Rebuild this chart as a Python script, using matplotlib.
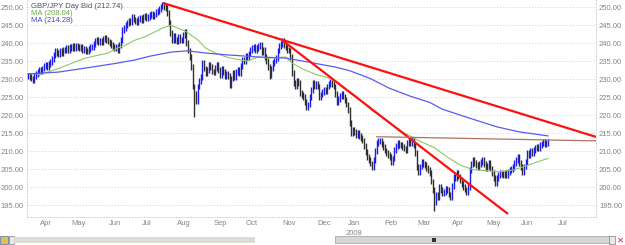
import numpy as np
import matplotlib
matplotlib.use("Agg")
import matplotlib.pyplot as plt
from matplotlib.patches import Rectangle
from matplotlib.transforms import blended_transform_factory

# --- data (daily closes, GBP/JPY) ---
CLOSE = [
    231.0, 230.6, 230.2, 229.8, 231.0, 231.4, 232.0, 232.5, 232.2, 233.0,
    233.6, 234.0, 233.5, 234.3, 234.8, 235.6, 236.8, 238.0, 237.4, 237.0,
    237.8, 237.3, 238.2, 238.0, 238.6, 238.2, 239.0, 238.7, 239.2, 238.8,
    239.4, 239.0, 238.6, 239.1, 238.0, 238.5, 237.9, 237.7, 238.4, 238.9,
    239.0, 239.8, 240.6, 241.0, 240.3, 240.8, 240.4, 241.2, 241.5, 240.9,
    240.5, 240.0, 239.6, 239.0, 238.6, 238.9, 238.0, 239.6, 241.0, 243.7,
    244.2, 245.0, 245.6, 246.2, 245.8, 247.3, 246.6, 246.2, 246.0, 246.8,
    247.0, 246.5, 247.3, 247.6, 247.0, 247.4, 247.8, 248.2, 247.6, 248.0,
    248.6, 249.0, 249.6, 250.2, 250.8, 250.0, 249.8, 248.4, 245.6, 242.8,
    241.0, 242.0, 241.0, 240.6, 241.8, 240.8, 241.0, 242.4, 243.2, 240.0,
    238.0, 236.2, 233.5, 228.0, 226.0, 224.0, 228.0, 229.5, 230.7, 234.5,
    233.0, 231.8, 232.6, 234.0, 233.4, 232.2, 232.0, 233.2, 234.0, 232.5,
    231.2, 232.8, 232.0, 230.8, 231.6, 231.0, 228.4, 230.2, 231.7, 230.6,
    232.0, 232.6, 231.7, 233.8, 235.4, 235.0, 236.6, 236.2, 237.2, 238.1,
    238.6, 239.0, 238.2, 238.7, 239.2, 239.5, 237.6, 238.2, 236.2, 235.0,
    233.4, 231.2, 233.0, 234.5, 235.2, 236.0, 238.0, 239.2, 239.8, 240.6,
    239.6, 239.0, 238.2, 238.0, 236.2, 231.7, 229.0, 228.0, 229.6, 229.0,
    226.2, 225.6, 225.0, 223.8, 222.4, 223.0, 225.0, 227.0, 229.0, 228.2,
    228.6, 228.0, 225.0, 225.8, 226.5, 227.2, 226.6, 228.0, 228.8, 229.2,
    228.6, 228.0, 226.0, 223.7, 224.6, 225.4, 226.0, 225.2, 224.3, 223.0,
    221.5, 217.8, 215.0, 216.0, 215.4, 214.6, 215.0, 214.2, 213.6, 213.0,
    211.4, 209.8, 208.4, 207.6, 206.6, 205.6, 207.6, 210.0, 212.3, 212.8,
    213.0, 212.0, 211.2, 210.2, 209.5, 209.0, 208.4, 207.0, 208.0, 210.4,
    211.4, 212.3, 211.6, 211.8, 211.2, 210.8, 210.4, 212.3, 212.8, 212.2,
    213.1, 211.6, 209.5, 205.6, 204.3, 205.8, 207.0, 206.4, 206.2, 205.4,
    204.8, 204.0, 201.6, 199.3, 196.0, 198.0, 197.3, 200.0, 199.2, 198.3,
    198.8, 199.6, 199.2, 198.0, 197.3, 200.4, 203.0, 202.6, 204.0, 203.0,
    202.0, 201.0, 200.0, 199.4, 198.7, 200.0, 204.8, 206.4, 207.6, 206.7,
    206.2, 205.6, 206.4, 207.0, 207.6, 206.4, 205.3, 206.0, 206.7, 205.2,
    204.0, 202.6, 201.2, 202.5, 203.4, 204.0, 203.6, 203.4, 204.0, 203.4,
    204.2, 204.8, 205.0, 205.6, 206.8, 207.6, 208.4, 206.7, 205.6, 204.3,
    205.8, 207.0, 209.5, 209.0, 210.0, 209.6, 210.4, 211.0, 211.2, 210.8,
    211.8, 212.2, 212.6, 212.0, 212.3, 212.74,
]

# intraday spike lows
SPIKE_IDX = [3, 104, 151, 254]
SPIKE_LOW = [229.0, 219.5, 230.0, 193.5]

# moving averages (sampled)
MA_FAST_IDX = [6, 15, 19, 30, 36, 50, 56, 61, 67, 73, 84, 89, 94, 99, 106, 111,
               117, 124, 130, 137, 144, 150, 161, 165, 173, 181, 188, 192, 199,
               206, 215, 224, 234, 245, 254, 262, 270, 278, 287, 295, 303, 309,
               316, 325]
MA_FAST_VAL = [231.2, 232.4, 233.0, 234.9, 235.9, 237.3, 238.7, 239.5, 240.9,
               241.8, 244.2, 245.0, 244.2, 243.2, 241.0, 238.7, 237.3, 236.2,
               235.6, 235.1, 236.2, 235.9, 236.2, 234.5, 232.6, 231.2, 230.4,
               229.3, 227.0, 225.0, 221.3, 218.7, 215.4, 212.8, 211.0, 208.4,
               206.2, 204.9, 204.6, 204.3, 204.8, 205.6, 206.7, 208.04]

MA_SLOW_IDX = [0, 19, 40, 56, 67, 77, 90, 100, 111, 124, 144, 161, 175, 192,
               201, 214, 226, 239, 251, 259, 276, 293, 307, 325]
MA_SLOW_VAL = [231.5, 232.0, 233.4, 234.5, 235.4, 236.5, 237.6, 237.9, 237.3,
               236.8, 236.2, 235.9, 234.8, 233.4, 232.4, 230.2, 227.5, 225.3,
               223.6, 221.7, 219.2, 216.8, 215.4, 214.28]

# drawn trend lines (index, price)
TREND_UPPER = ([84.4, 355.0], [251.2, 214.0])
TREND_LOWER = ([158.8, 300.0], [240.9, 192.6])
RESIST = ([218.0, 355.0], [214.05, 212.9])

MONTH_LABELS = ["Apr", "May", "Jun", "Jul", "Aug", "Sep", "Oct", "Nov", "Dec",
                "Jan", "Feb", "Mar", "Apr", "May", "Jun", "Jul"]
MONTH_POS = [11.3, 31.9, 54.4, 74.4, 97.5, 120, 140, 163, 185, 204, 227,
             247.5, 269, 291, 312, 334]
YEAR_LABEL = "2008"
YEAR_POS = 204

Y_TICKS = [195, 200, 205, 210, 215, 220, 225, 230, 235, 240, 245, 250]

LAST = CLOSE[-1]

W, H = 625, 245
FONT = "Liberation Sans"
GRAY = "#858585"
FS = 5.5

fig = plt.figure(figsize=(W / 100, H / 100), dpi=100)
fig.patch.set_facecolor("white")
ax = fig.add_axes([27 / W, 28 / H, 569 / W, 217 / H])
ax.set_facecolor("white")

close = np.array(CLOSE)
idx = np.arange(len(close))
prev = np.concatenate([[close[0]], close[:-1]])
lo = np.minimum(prev, close) - 0.8
hi = np.maximum(prev, close) + 0.8
for i, v in zip(SPIKE_IDX, SPIKE_LOW):
    lo[i] = min(lo[i], v)
up = close >= prev
ax.vlines(idx[up], lo[up], hi[up], color="#1c1cf0", lw=1.0, zorder=3)
ax.vlines(idx[~up], lo[~up], hi[~up], color="#2e2e2e", lw=1.0, zorder=3)

ax.plot(MA_FAST_IDX, MA_FAST_VAL, color="#8cc860", lw=0.8, zorder=4)
ax.plot(MA_SLOW_IDX, MA_SLOW_VAL, color="#5a5af0", lw=0.9, zorder=4)

ax.plot(*TREND_UPPER, color="#ff1010", lw=1.6, zorder=5, solid_capstyle="butt")
ax.plot(*TREND_LOWER, color="#ff1010", lw=1.6, zorder=5, solid_capstyle="butt")
ax.plot(*RESIST, color="#b07060", lw=0.9, zorder=5)

ax.set_xlim(-0.6, 355.0)
ax.set_ylim(191.75, 252.03)

ax.set_yticks(Y_TICKS)
ax.set_yticklabels([f"{v:.2f}" for v in Y_TICKS])
ax.tick_params(axis="y", length=0, labelsize=FS, labelcolor=GRAY,
               labelleft=True, labelright=True, pad=2.2)
for lab in ax.get_yticklabels():
    lab.set_fontfamily(FONT)
ax.set_xticks([])
ax.grid(axis="y", color="#cfcfcf", linestyle=(0, (1, 2)), lw=0.7)
ax.set_axisbelow(True)
for side in ["left", "right", "bottom"]:
    ax.spines[side].set_color("#d0d0d0")
    ax.spines[side].set_linestyle((0, (1, 2)))
    ax.spines[side].set_linewidth(0.7)
ax.spines["top"].set_visible(False)

trans = blended_transform_factory(ax.transData, ax.transAxes)
for lab, pos in zip(MONTH_LABELS, MONTH_POS):
    ax.text(pos, -6 / 217, lab, transform=trans, ha="center", va="center",
            fontsize=FS, color=GRAY, family=FONT)
ax.text(YEAR_POS, -16 / 217, YEAR_LABEL, transform=trans, ha="center",
        va="center", fontsize=FS, color=GRAY, family=FONT)

# legend block
ax.text(4 / 569, 1 - 6 / 217, f"GBP/JPY Day Bid ({LAST:.2f})", transform=ax.transAxes,
        fontsize=FS, color="#505070", family=FONT, va="center")
ax.text(4 / 569, 1 - 13.5 / 217, f"MA ({MA_FAST_VAL[-1]:.2f})", transform=ax.transAxes,
        fontsize=FS, color="#6aa848", family=FONT, va="center")
ax.text(4 / 569, 1 - 21 / 217, f"MA ({MA_SLOW_VAL[-1]:.2f})", transform=ax.transAxes,
        fontsize=FS, color="#4848d0", family=FONT, va="center")

# scroll bar along the bottom
def box(x0, y0, w, h, fc, ec="none", lw=0.5):
    fig.add_artist(Rectangle((x0 / W, 1 - (y0 + h) / H), w / W, h / H,
                             transform=fig.transFigure, facecolor=fc,
                             edgecolor=ec, lw=lw))

box(0, 236, 8, 8, "#e8c040", "#4070c0")
box(9, 236, 5, 8, "#e8e8e8", "#808080")
box(14, 237, 241, 6, "#dcdcd4")
box(335, 236, 274, 7, "#d6d6d6", "#9a9a9a")
box(432, 237.5, 4, 4, "#303030")
box(609, 236, 6, 8, "#e8e8e8", "#808080")
fig.text(620 / W, 1 - 240 / H, "✕", color="#e02020", fontsize=6,
         ha="center", va="center", fontweight="bold")

fig.savefig("out.png", dpi=100)
